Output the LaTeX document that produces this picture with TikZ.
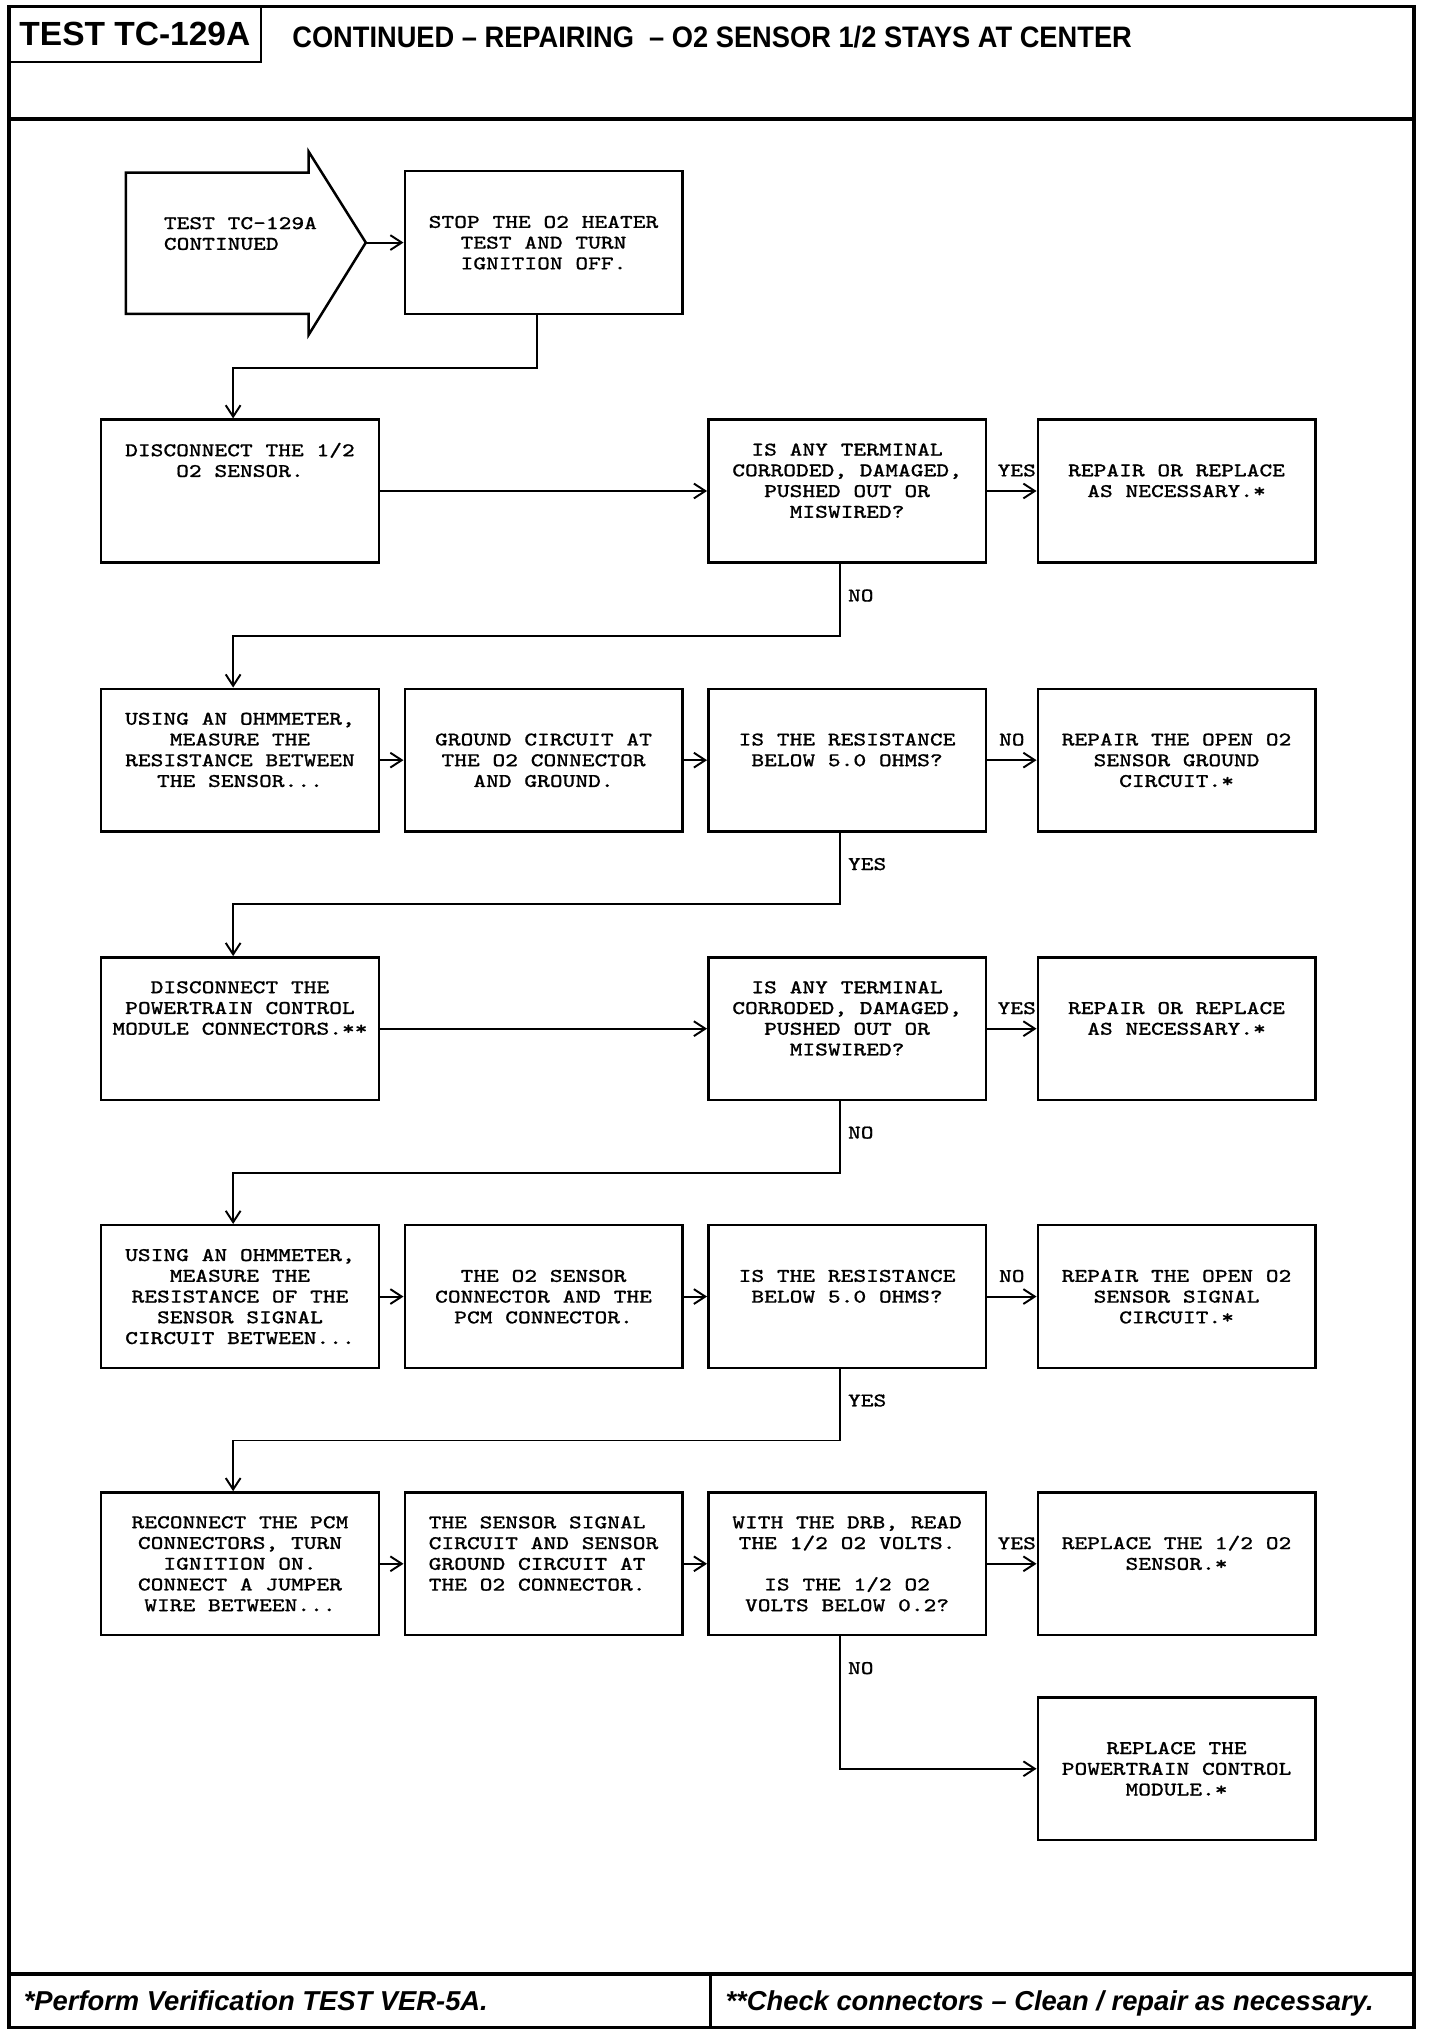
\documentclass[tikz,border=0pt]{standalone}
\usepackage{fontspec}
\newfontfamily\boxfont[FakeStretch=1.24, FakeBold=0.8]{Latin Modern Mono}
\newfontfamily\headfont{Liberation Sans}
\newfontfamily\titlefont[FakeStretch=0.92]{Liberation Sans}
\newcommand{\blank}{\vphantom{A}}
\usetikzlibrary{arrows.meta,positioning}
\tikzset{
    raw flow box/.style={rectangle, draw, line width=1.1pt, inner sep=0pt,
        minimum width=4.28cm, minimum height=2.2cm, align=center,
        font=\boxfont\fontsize{8.5}{9.1}\selectfont},
    flow box/.style={raw flow box},
    flow box left/.style={raw flow box, align=left},
    flow label/.style={font=\boxfont\fontsize{8.5}{9.1}\selectfont, inner sep=0pt},
    flow arrow/.style={draw, line width=0.85pt, -{Straight Barb[length=5pt,width=6.5pt]}},
    frame line/.style={draw, line width=1.4pt},
    head line/.style={draw, line width=1.8pt},
    test id/.style={rectangle, draw, line width=1pt, inner sep=0pt,
        minimum width=3.88cm, minimum height=0.86cm,
        font=\headfont\bfseries\fontsize{14.7}{16}\selectfont},
    title text/.style={inner sep=0pt, font=\titlefont\bfseries\fontsize{13}{15}\selectfont},
    foot text/.style={inner sep=0pt, font=\headfont\bfseries\itshape\fontsize{12}{14}\selectfont}
}

\begin{document}
\begin{tikzpicture}[x=0.02cm, y=-0.02cm]
    \useasboundingbox (0,0) rectangle (1110,1568);

    % page frame, header and footer
    \draw[frame line] (7,5) rectangle (1090,1563);
    \draw[head line] (7,92) -- (1090,92);
    \draw[head line] (7,1522) -- (1090,1522);
    \draw[frame line] (548,1522) -- (548,1563);
    \node[test id] (testid) at (104,26.5) {TEST TC-129A};
    \node[title text, anchor=base west] (title) at (225,36.5)
        {CONTINUED – REPAIRING\ \ – O2 SENSOR 1/2 STAYS AT CENTER};
    \node[foot text, anchor=base west] (footA) at (18,1550) {*Perform Verification TEST VER-5A.};
    \node[foot text, anchor=base west] (footB) at (559,1550) {**Check connectors – Clean / repair as necessary.};

    % entry arrow
    \draw[line width=1.1pt] (97,133) -- (238,133) -- (238,117) -- (282,187)
        -- (238,258) -- (238,242) -- (97,242) -- cycle;
    \coordinate (entrytip) at (282,187);
    \node[flow label, anchor=west, align=left] (entry) at (126,180) {TEST TC-129A\\CONTINUED};

    % boxes
    \node[flow box] (stop) at (419,187) {\blank\\STOP THE O2 HEATER\\TEST AND TURN\\IGNITION OFF.\\\blank};

    \node[flow box] (disc) at (185,378.5) {DISCONNECT THE 1/2\\O2 SENSOR.\\\blank\\\blank\\\blank};
    \node[flow box] (termA) at (653,378.5) {IS ANY TERMINAL\\CORRODED, DAMAGED,\\PUSHED OUT OR\\MISWIRED?\\\blank};
    \node[flow box] (repA) at (907,378.5) {\blank\\REPAIR OR REPLACE\\AS NECESSARY.*\\\blank\\\blank};

    \node[flow box] (ohmA) at (185,586) {USING AN OHMMETER,\\MEASURE THE\\RESISTANCE BETWEEN\\THE SENSOR...\\\blank};
    \node[flow box] (gnd) at (419,586) {\blank\\GROUND CIRCUIT AT\\THE O2 CONNECTOR\\AND GROUND.\\\blank};
    \node[flow box] (resA) at (653,586) {\blank\\IS THE RESISTANCE\\BELOW 5.0 OHMS?\\\blank\\\blank};
    \node[flow box] (openA) at (907,586) {\blank\\REPAIR THE OPEN O2\\SENSOR GROUND\\CIRCUIT.*\\\blank};

    \node[flow box] (pcm) at (185,793) {DISCONNECT THE\\POWERTRAIN CONTROL\\MODULE CONNECTORS.**\\\blank\\\blank};
    \node[flow box] (termB) at (653,793) {IS ANY TERMINAL\\CORRODED, DAMAGED,\\PUSHED OUT OR\\MISWIRED?\\\blank};
    \node[flow box] (repB) at (907,793) {\blank\\REPAIR OR REPLACE\\AS NECESSARY.*\\\blank\\\blank};

    \node[flow box] (ohmB) at (185,999.5) {USING AN OHMMETER,\\MEASURE THE\\RESISTANCE OF THE\\SENSOR SIGNAL\\CIRCUIT BETWEEN...};
    \node[flow box] (o2con) at (419,999.5) {\blank\\THE O2 SENSOR\\CONNECTOR AND THE\\PCM CONNECTOR.\\\blank};
    \node[flow box] (resB) at (653,999.5) {\blank\\IS THE RESISTANCE\\BELOW 5.0 OHMS?\\\blank\\\blank};
    \node[flow box] (openB) at (907,999.5) {\blank\\REPAIR THE OPEN O2\\SENSOR SIGNAL\\CIRCUIT.*\\\blank};

    \node[flow box] (recon) at (185,1205.5) {RECONNECT THE PCM\\CONNECTORS, TURN\\IGNITION ON.\\CONNECT A JUMPER\\WIRE BETWEEN...};
    \node[flow box left] (sig) at (419,1205.5) {THE SENSOR SIGNAL\\CIRCUIT AND SENSOR\\GROUND CIRCUIT AT\\THE O2 CONNECTOR.\\\blank};
    \node[flow box] (drb) at (653,1205.5) {WITH THE DRB, READ\\THE 1/2 O2 VOLTS.\\\blank\\IS THE 1/2 O2\\VOLTS BELOW 0.2?};
    \node[flow box] (repsens) at (907,1205.5) {\blank\\REPLACE THE 1/2 O2\\SENSOR.*\\\blank\\\blank};

    \node[flow box] (final) at (907,1363.5) {\blank\\REPLACE THE\\POWERTRAIN CONTROL\\MODULE.*\\\blank};

    % connectors
    \draw[flow arrow] (entrytip) -- (stop);
    \draw[flow arrow] ([xshift=-3pt]stop.south) -- ++(0,41) -| ([xshift=-3pt]disc.north);

    \draw[flow arrow] (disc) -- (termA);
    \draw[flow arrow] (termA) -- node[flow label, pos=0.6, yshift=9pt] {YES} (repA);
    \draw[flow arrow] ([xshift=-3pt]termA.south) -- node[flow label, right=3pt, pos=0.44] {NO} ++(0,56)
        -| ([xshift=-3pt]ohmA.north);

    \draw[flow arrow] (ohmA) -- (gnd);
    \draw[flow arrow] (gnd) -- (resA);
    \draw[flow arrow] (resA) -- node[flow label, pos=0.5, yshift=9pt] {NO} (openA);
    \draw[flow arrow] ([xshift=-3pt]resA.south) -- node[flow label, right=3pt, pos=0.44] {YES} ++(0,55)
        -| ([xshift=-3pt]pcm.north);

    \draw[flow arrow] (pcm) -- (termB);
    \draw[flow arrow] (termB) -- node[flow label, pos=0.6, yshift=9pt] {YES} (repB);
    \draw[flow arrow] ([xshift=-3pt]termB.south) -- node[flow label, right=3pt, pos=0.44] {NO} ++(0,55)
        -| ([xshift=-3pt]ohmB.north);

    \draw[flow arrow] (ohmB) -- (o2con);
    \draw[flow arrow] (o2con) -- (resB);
    \draw[flow arrow] (resB) -- node[flow label, pos=0.5, yshift=9pt] {NO} (openB);
    \draw[flow arrow] ([xshift=-3pt]resB.south) -- node[flow label, right=3pt, pos=0.44] {YES} ++(0,55)
        -| ([xshift=-3pt]recon.north);

    \draw[flow arrow] (recon) -- (sig);
    \draw[flow arrow] (sig) -- (drb);
    \draw[flow arrow] (drb) -- node[flow label, pos=0.6, yshift=9pt] {YES} (repsens);
    \draw[flow arrow] ([xshift=-3pt]drb.south) |- node[flow label, right=3pt, pos=0.12] {NO} (final.west);
\end{tikzpicture}
\end{document}
